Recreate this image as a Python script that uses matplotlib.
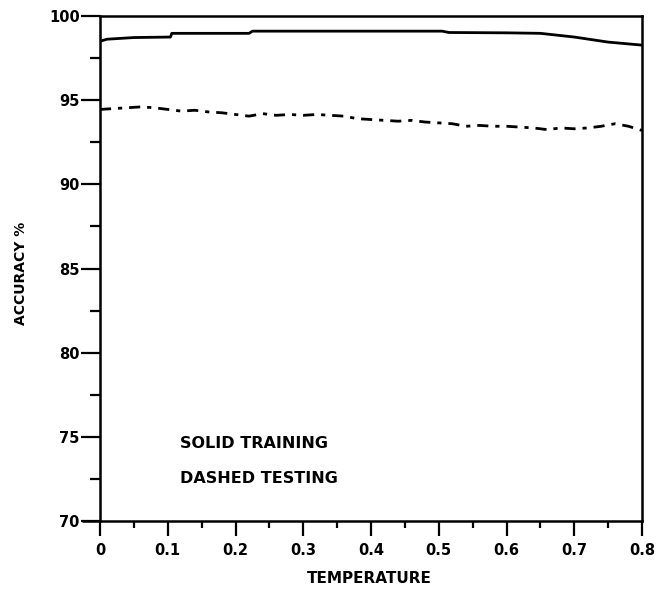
import matplotlib
matplotlib.use("Agg")
import matplotlib.pyplot as plt
from matplotlib.ticker import MultipleLocator, FormatStrFormatter

plt.rcParams['font.family'] = ['DejaVu Sans']

# Training accuracy (solid curve)
train_temp = [0.0, 0.01, 0.05, 0.104, 0.106, 0.22, 0.225, 0.505, 0.515,
              0.60, 0.65, 0.70, 0.75, 0.80]
train_acc = [98.5, 98.62, 98.72, 98.75, 98.97, 98.97, 99.1, 99.1, 99.02,
             99.0, 98.97, 98.75, 98.45, 98.27]

# Testing accuracy (dashed curve)
test_temp = [0.00, 0.02, 0.04, 0.06, 0.08, 0.10, 0.12, 0.14, 0.16, 0.18,
             0.20, 0.22, 0.24, 0.26, 0.28, 0.30, 0.32, 0.34, 0.36, 0.38,
             0.40, 0.42, 0.44, 0.46, 0.48, 0.50, 0.52, 0.54, 0.56, 0.58,
             0.60, 0.62, 0.64, 0.66, 0.68, 0.70, 0.72, 0.74, 0.76, 0.78,
             0.80]
test_acc = [94.45, 94.5, 94.55, 94.6, 94.55, 94.45, 94.35, 94.4, 94.3, 94.25,
            94.15, 94.05, 94.2, 94.1, 94.15, 94.1, 94.15, 94.1, 94.05, 93.9,
            93.85, 93.8, 93.75, 93.8, 93.7, 93.65, 93.6, 93.45, 93.5, 93.45,
            93.45, 93.4, 93.35, 93.25, 93.35, 93.3, 93.35, 93.45, 93.6, 93.45,
            93.2]

x_ticks = [0, 0.1, 0.2, 0.3, 0.4, 0.5, 0.6, 0.7, 0.8]
y_ticks = [70, 75, 80, 85, 90, 95, 100]

fig = plt.figure(figsize=(6.59, 5.97), dpi=100)
ax = fig.add_axes([100 / 659, 1 - 521 / 597, 542 / 659, 505 / 597])

ax.plot(train_temp, train_acc, color='black', lw=2.0, solid_capstyle='butt')
ax.plot(test_temp, test_acc, color='black', lw=2.0,
        linestyle=(0, (4, 2.5, 1.5, 2.5)))

ax.set_xlim(0, 0.8)
ax.set_ylim(70, 100)
ax.set_xticks(x_ticks)
ax.set_yticks(y_ticks)
ax.xaxis.set_minor_locator(MultipleLocator(0.05))
ax.yaxis.set_minor_locator(MultipleLocator(2.5))
ax.xaxis.set_major_formatter(FormatStrFormatter('%g'))

for s in ax.spines.values():
    s.set_linewidth(1.8)

# bottom axis line runs a little past the origin on the left
ax.plot([-0.033, 0], [0, 0], transform=ax.transAxes, color='black',
        lw=1.8, clip_on=False, solid_capstyle='butt')

ax.tick_params(axis='y', which='major', direction='out', length=14, width=1.6,
               pad=0.5, labelsize=10.5)
ax.tick_params(axis='y', which='minor', direction='out', length=7, width=1.6)
ax.tick_params(axis='x', which='major', direction='out', length=11, width=1.6,
               pad=5, labelsize=10.5)
ax.tick_params(axis='x', which='minor', direction='out', length=5, width=1.6)
for lab in ax.get_xticklabels() + ax.get_yticklabels():
    lab.set_fontweight('bold')

ax.set_xlabel('TEMPERATURE', fontsize=11, fontweight='bold')
ax.xaxis.set_label_coords(0.497, -0.099)
ax.set_ylabel('ACCURACY %', fontsize=10, fontweight='semibold')
ax.yaxis.set_label_coords(-0.133, 0.49)

ax.text(0.118, 74.6, 'SOLID TRAINING', fontsize=11.5, fontweight='bold',
        va='center', ha='left')
ax.text(0.118, 72.55, 'DASHED TESTING', fontsize=11.5, fontweight='bold',
        va='center', ha='left')

fig.savefig('out.png', dpi=100)
